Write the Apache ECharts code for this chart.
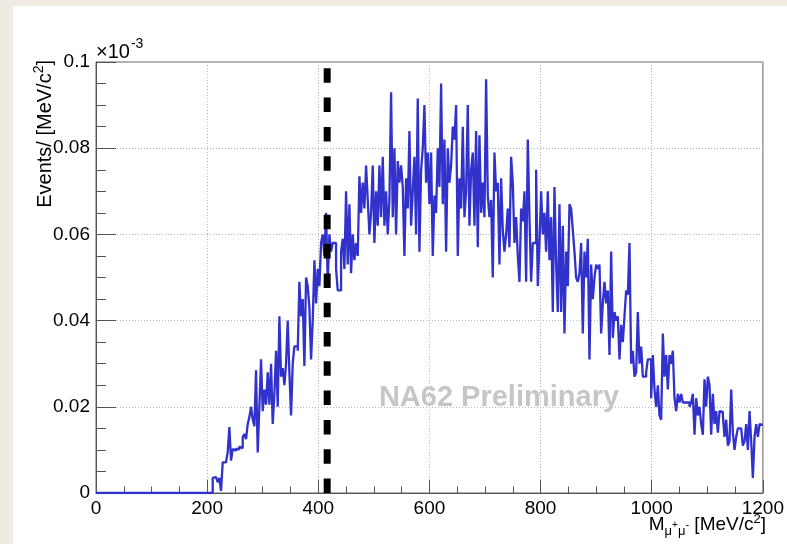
<!DOCTYPE html>
<html>
<head>
<meta charset="utf-8">
<script src="https://cdn.jsdelivr.net/npm/echarts/dist/echarts.min.js"></script>
<style>
  html, body { margin: 0; padding: 0; background: #eeebe3; }
  #panel { position: absolute; left: 13px; top: 6px; right: 0; bottom: 0; background: #ffffff; }
  #chart { position: absolute; left: 0; top: 0; width: 787px; height: 544px; }
</style>
</head>
<body>
<div id="panel"></div>
<div id="chart"></div>
<script>
// Dimuon invariant mass spectrum, 3 MeV/c^2 bins from 210 to 1200 MeV/c^2
const binWidth = 3;
const firstEdge = 210;
const xMax = 1200;
const yMax = 0.1;
const cutMass = 416;

const binContents = [
  0.0035, 0.0037, 0.0035, 0.0025, 0.0035, 0.0005, 0.0071, 0.0071, 0.0072, 0.0095,
  0.0153, 0.0075, 0.0102, 0.0098, 0.0103, 0.0101, 0.0108, 0.0104, 0.0130, 0.0137,
  0.0125, 0.0160, 0.0176, 0.0200, 0.0171, 0.0155, 0.0285, 0.0094, 0.0200, 0.0310,
  0.0190, 0.0240, 0.0205, 0.0280, 0.0205, 0.0300, 0.0160, 0.0230, 0.0330, 0.0200,
  0.0410, 0.0270, 0.0290, 0.0250, 0.0300, 0.0400, 0.0280, 0.0180, 0.0300, 0.0340,
  0.0340, 0.0330, 0.0490, 0.0410, 0.0450, 0.0295, 0.0500, 0.0480, 0.0430, 0.0310,
  0.0400, 0.0540, 0.0440, 0.0520, 0.0480, 0.0580, 0.0600, 0.0550, 0.0650, 0.0490,
  0.0600, 0.0560, 0.0580, 0.0580, 0.0520, 0.0470, 0.0470, 0.0560, 0.0590, 0.0520,
  0.0700, 0.0530, 0.0670, 0.0510, 0.0600, 0.0540, 0.0580, 0.0550, 0.0735, 0.0650,
  0.0720, 0.0660, 0.0760, 0.0680, 0.0600, 0.0650, 0.0760, 0.0580, 0.0700, 0.0620,
  0.0760, 0.0640, 0.0780, 0.0620, 0.0700, 0.0600, 0.0680, 0.0930, 0.0640, 0.0800,
  0.0600, 0.0770, 0.0720, 0.0760, 0.0710, 0.0550, 0.0730, 0.0660, 0.0840, 0.0620,
  0.0700, 0.0780, 0.0600, 0.0915, 0.0560, 0.0750, 0.0800, 0.0900, 0.0720, 0.0790,
  0.0670, 0.0790, 0.0550, 0.0690, 0.0650, 0.0800, 0.0710, 0.0950, 0.0670, 0.0820,
  0.0560, 0.0800, 0.0720, 0.0760, 0.0850, 0.0820, 0.0900, 0.0550, 0.0730, 0.0660,
  0.0850, 0.0640, 0.0700, 0.0900, 0.0620, 0.0750, 0.0790, 0.0620, 0.0840, 0.0570,
  0.0830, 0.0650, 0.0720, 0.0640, 0.0960, 0.0690, 0.0640, 0.0680, 0.0500, 0.0790,
  0.0700, 0.0720, 0.0530, 0.0730, 0.0610, 0.0560, 0.0600, 0.0660, 0.0570, 0.0780,
  0.0720, 0.0580, 0.0640, 0.0550, 0.0490, 0.0660, 0.0630, 0.0700, 0.0490, 0.0820,
  0.0640, 0.0490, 0.0580, 0.0580, 0.0750, 0.0480, 0.0580, 0.0700, 0.0600, 0.0650,
  0.0560, 0.0700, 0.0540, 0.0640, 0.0420, 0.0710, 0.0530, 0.0420, 0.0670, 0.0420,
  0.0620, 0.0370, 0.0560, 0.0480, 0.0670, 0.0660, 0.0610, 0.0560, 0.0500, 0.0490,
  0.0510, 0.0580, 0.0370, 0.0560, 0.0500, 0.0590, 0.0310, 0.0530, 0.0450, 0.0500,
  0.0530, 0.0520, 0.0530, 0.0370, 0.0440, 0.0490, 0.0440, 0.0470, 0.0320, 0.0560,
  0.0360, 0.0420, 0.0400, 0.0410, 0.0310, 0.0390, 0.0350, 0.0410, 0.0470, 0.0460,
  0.0580, 0.0300, 0.0330, 0.0270, 0.0280, 0.0420, 0.0300, 0.0340, 0.0270, 0.0270,
  0.0280, 0.0310, 0.0310, 0.0220, 0.0320, 0.0240, 0.0200, 0.0250, 0.0180, 0.0170,
  0.0370, 0.0270, 0.0320, 0.0240, 0.0320, 0.0300, 0.0330, 0.0220, 0.0190, 0.0230,
  0.0210, 0.0230, 0.0210, 0.0210, 0.0210, 0.0210, 0.0200, 0.0210, 0.0230, 0.0135,
  0.0220, 0.0180, 0.0200, 0.0160, 0.0135, 0.0264, 0.0200, 0.0270, 0.0250, 0.0135,
  0.0230, 0.0160, 0.0190, 0.0140, 0.0190, 0.0188, 0.0180, 0.0130, 0.0170, 0.0110,
  0.0120, 0.0240, 0.0140, 0.0100, 0.0130, 0.0150, 0.0150, 0.0150, 0.0110, 0.0120,
  0.0160, 0.0100, 0.0190, 0.0120, 0.0035, 0.0130, 0.0160, 0.0130, 0.0160, 0.0158
];

const xTickLabels = ['0', '200', '400', '600', '800', '1000', '1200'];
const yTickLabels = ['0', '0.02', '0.04', '0.06', '0.08', '0.1'];

const FONT = '"Liberation Sans", Arial, Helvetica, sans-serif';
const measureCtx = document.createElement('canvas').getContext('2d');
function textWidth(str, size, weight) {
  measureCtx.font = (weight || 'normal') + ' ' + size + 'px ' + FONT;
  return measureCtx.measureText(str).width;
}

// Step outline: empty range from 0, then one point per bin low edge, closed at xMax
const histPoints = [[0, 0]];
binContents.forEach((v, i) => histPoints.push([firstEdge + i * binWidth, v]));
histPoints.push([xMax, binContents[binContents.length - 1]]);

// Frame geometry
const frame = { left: 96, top: 62, right: 766, bottom: 493 };

// Y axis title pieces (rotated)
const yTitleSize = 20;
const yT1 = 'Events/ [MeV/c';
const yW1 = textWidth(yT1, yTitleSize);
const yW2 = textWidth('2', 14);
const yW3 = textWidth(']', yTitleSize);
const yTotal = yW1 + yW2 + yW3;

// X axis title pieces laid out right-aligned to the frame edge
const xTitleSize = 19;
const xPieces = [
  { t: 'M', size: xTitleSize, dy: 0 },
  { t: '\u03bc', size: 13, dy: 6 },
  { t: '+', size: 10, dy: 0 },
  { t: '\u03bc', size: 13, dy: 6 },
  { t: '-', size: 11, dy: 0 },
  { t: ' [MeV/c', size: xTitleSize, dy: 0 },
  { t: '2', size: 13, dy: -6 },
  { t: ']', size: xTitleSize, dy: 0 }
];
let xTotal = 0;
xPieces.forEach(p => { p.w = textWidth(p.t, p.size); xTotal += p.w; });
let xCursor = frame.right - xTotal;
const xTitleBaseY = 525;
const xTitleElems = xPieces.map(p => {
  const el = {
    type: 'text', x: xCursor, y: xTitleBaseY + p.dy,
    style: { text: p.t, font: p.size + 'px ' + FONT, fill: '#000', textAlign: 'left', textVerticalAlign: 'middle' }
  };
  xCursor += p.w;
  return el;
});

const expW = textWidth('\u00d710', 20);

const chart = echarts.init(document.getElementById('chart'), null, { renderer: 'canvas' });
chart.setOption({
  animation: false,
  backgroundColor: 'transparent',
  grid: {
    left: frame.left, top: frame.top, right: 787 - frame.right, bottom: 544 - frame.bottom,
    show: true, borderColor: '#666', borderWidth: 1, backgroundColor: 'transparent'
  },
  xAxis: {
    type: 'value', min: 0, max: xMax, interval: 200,
    axisLine: { show: true, onZero: false, lineStyle: { color: '#555', width: 1 } },
    axisTick: { show: true, inside: true, length: 13, lineStyle: { color: '#555' } },
    minorTick: { show: true, splitNumber: 4, length: 6.5, lineStyle: { color: '#555' } },
    splitLine: { show: true, lineStyle: { color: '#b5b5b5', type: [1, 2], width: 1 } },
    axisLabel: {
      fontSize: 19, fontFamily: FONT, color: '#000', margin: 6,
      formatter: (v, i) => xTickLabels[i]
    }
  },
  yAxis: {
    type: 'value', min: 0, max: yMax, interval: 0.02,
    axisLine: { show: true, lineStyle: { color: '#555', width: 1 } },
    axisTick: { show: true, inside: true, length: 20, lineStyle: { color: '#555' } },
    minorTick: { show: true, splitNumber: 4, length: 10, lineStyle: { color: '#555' } },
    splitLine: { show: true, lineStyle: { color: '#b5b5b5', type: [1, 2], width: 1 } },
    axisLabel: {
      fontSize: 19, fontFamily: FONT, color: '#000', margin: 6,
      formatter: (v, i) => yTickLabels[i]
    }
  },
  series: [
    {
      name: 'mass', type: 'line', step: 'end', data: histPoints,
      symbol: 'none', clip: true, z: 3,
      lineStyle: { color: '#3131cb', width: 2.3 }
    },
    {
      name: 'cut', type: 'line', data: [[cutMass, 0], [cutMass, yMax]],
      symbol: 'none', z: 5,
      lineStyle: { color: '#000', width: 7, type: [14.5, 14.8], cap: 'butt' }
    }
  ],
  graphic: [
    {
      type: 'text', x: 499, y: 398, z: 1,
      style: { text: 'NA62 Preliminary', font: 'bold 29px ' + FONT, fill: '#c6c6c6', textAlign: 'center', textVerticalAlign: 'middle' }
    },
    {
      type: 'text', x: 96, y: 52,
      style: { text: '\u00d710', font: '20px ' + FONT, fill: '#000', textAlign: 'left', textVerticalAlign: 'middle' }
    },
    {
      type: 'text', x: 96 + expW + 1, y: 44,
      style: { text: '-3', font: '14px ' + FONT, fill: '#000', textAlign: 'left', textVerticalAlign: 'middle' }
    },
    {
      type: 'group', x: 45, y: 60 + yTotal, rotation: Math.PI / 2,
      children: [
        { type: 'text', x: 0, y: 0, style: { text: yT1, font: yTitleSize + 'px ' + FONT, fill: '#000', textAlign: 'left', textVerticalAlign: 'middle' } },
        { type: 'text', x: yW1, y: -6, style: { text: '2', font: '14px ' + FONT, fill: '#000', textAlign: 'left', textVerticalAlign: 'middle' } },
        { type: 'text', x: yW1 + yW2, y: 0, style: { text: ']', font: yTitleSize + 'px ' + FONT, fill: '#000', textAlign: 'left', textVerticalAlign: 'middle' } }
      ]
    }
  ].concat(xTitleElems)
});
</script>
</body>
</html>
